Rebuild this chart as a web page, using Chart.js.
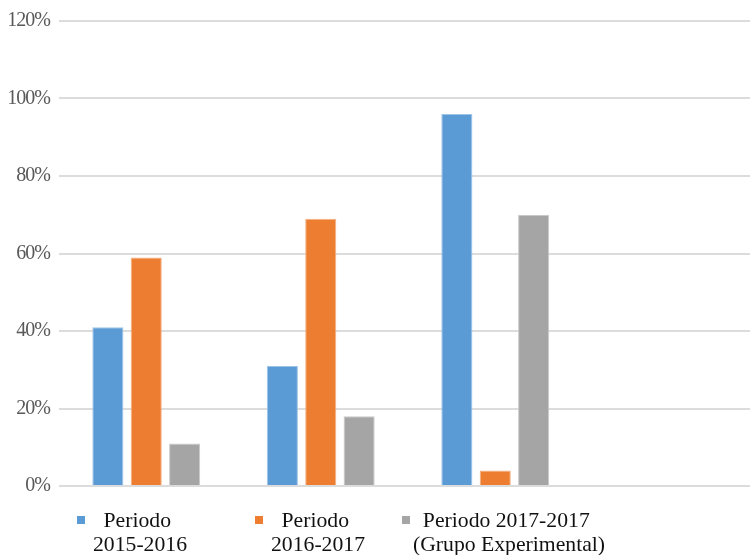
<!DOCTYPE html>
<html>
<head>
<meta charset="utf-8">
<script src="https://cdn.jsdelivr.net/npm/chart.js@4"></script>
<style>
    html, body { margin: 0; padding: 0; background: #fff; overflow: hidden; }
    #wrap { width: 750px; height: 555px; overflow: hidden; }
    canvas { display: block; }
</style>
</head>
<body>
<div id="wrap"><canvas id="barChart" width="760" height="555"></canvas></div>
<script>
// === DATA ===
const categories = ["1", "2", "3", "4"];
const seriesLines = [
    ["Periodo ", "2015-2016"],
    ["Periodo ", "2016-2017"],
    ["Periodo 2017-2017 ", "(Grupo Experimental)"]
];
const values1516 = [41, 31, 96, null];
const values1617 = [59, 69, 4, null];
const values1717 = [11, 18, 70, null];
const yTicks = [0, 20, 40, 60, 80, 100, 120];

const fills = ["#5B9BD5", "#ED7D31", "#A5A5A5"];
const edges = ["#9DC3E6", "#F4B183", "#C9C9C9"];

// legend item placement: square left edge, text block center
const legendPos = [
    { box: 77, text: 140 },
    { box: 255, text: 318 },
    { box: 402, text: 509 }
];

// === LEGEND (two-line labels under the plot) ===
const bottomLegend = {
    id: "bottomLegend",
    beforeDraw(chart) {
        chart.ctx.letterSpacing = "-1px";
    },
    afterDraw(chart) {
        const ctx = chart.ctx;
        ctx.save();
        ctx.letterSpacing = "0px";
        ctx.font = "21.7px 'Liberation Serif', 'Times New Roman', serif";
        ctx.textAlign = "center";
        ctx.textBaseline = "alphabetic";
        chart.data.datasets.forEach((ds, i) => {
            const p = legendPos[i];
            ctx.fillStyle = ds.backgroundColor;
            ctx.fillRect(p.box, 516, 8, 8);
            ctx.fillStyle = "#111";
            seriesLines[i].forEach((line, j) => {
                ctx.fillText(line, p.text, 527 + j * 23.5);
            });
        });
        ctx.restore();
    }
};

// === BAR CHART ===
const ctx = document.getElementById("barChart").getContext("2d");

const datasets = [values1516, values1617, values1717].map((vals, i) => ({
    label: seriesLines[i].join("").trim(),
    data: vals,
    backgroundColor: fills[i],
    borderColor: edges[i],
    borderWidth: 1,
    categoryPercentage: 0.66,
    barPercentage: 0.81
}));

const chart = new Chart(ctx, {
    type: "bar",
    data: { labels: categories, datasets: datasets },
    options: {
        responsive: false,
        animation: false,
        layout: { padding: { top: 18, right: 3, bottom: 69, left: 0 } },
        plugins: {
            legend: { display: false },
            tooltip: { enabled: false }
        },
        scales: {
            x: { display: false },
            y: {
                min: 0,
                max: 120,
                afterBuildTicks: (axis) => { axis.ticks = yTicks.map(v => ({ value: v })); },
                afterFit: (axis) => { axis.width = 59; },
                border: { display: false },
                grid: { color: "#dcdcdc", lineWidth: 2, drawTicks: false },
                ticks: {
                    padding: 9,
                    color: "#595959",
                    font: { family: "'Liberation Serif', 'Times New Roman', serif", size: 20 },
                    callback: (v) => v + "%"
                }
            }
        }
    },
    plugins: [bottomLegend]
});
</script>
</body>
</html>
